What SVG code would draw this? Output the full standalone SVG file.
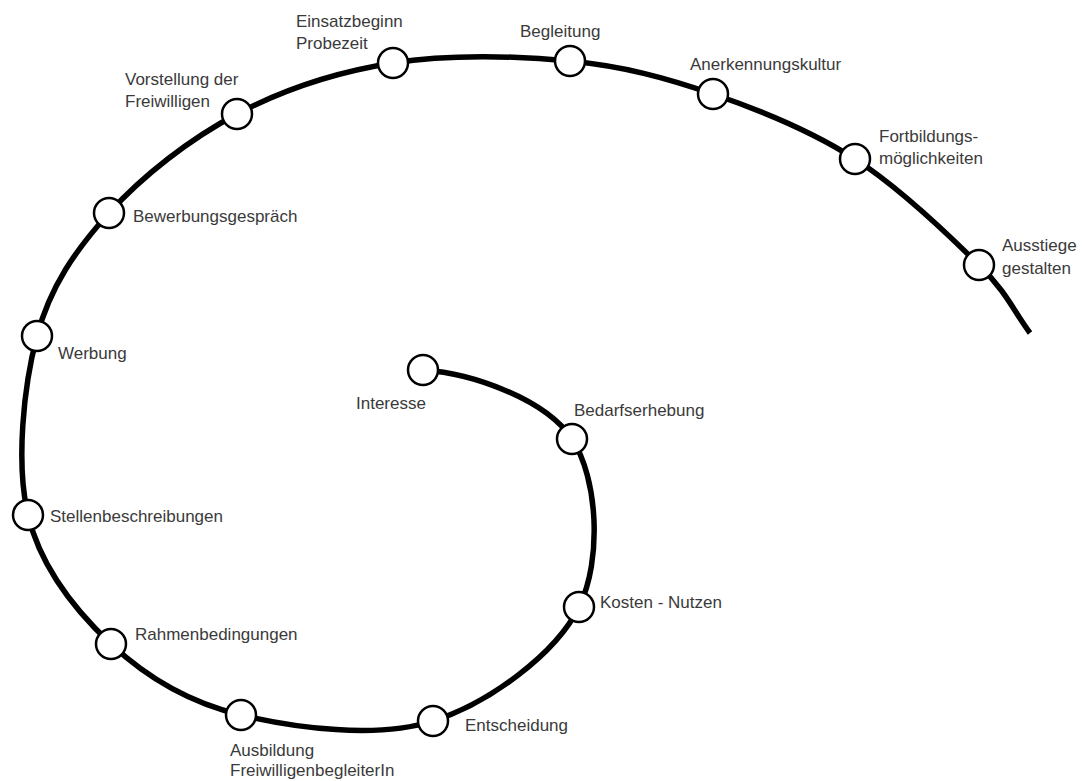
<svg xmlns="http://www.w3.org/2000/svg" width="1085" height="781" viewBox="0 0 1085 781">
<style>
.lbl{font-family:"Liberation Sans",Arial,sans-serif;font-size:17px;fill:#3a3a3a}
.node circle{fill:#fff;stroke:#000;stroke-width:2.5}
.spiral{fill:none;stroke:#000;stroke-width:5.5;stroke-linecap:butt}
</style>
<rect width="1085" height="781" fill="#fff"/>
<g id="connectors">
<path class="spiral" d="M423,370 C473,373.3 546,399.5 572,439 C598,478.5 602.2,560 579,607 C555.8,654 489.3,703 433,721 C376.7,739 294.7,727.8 241,715 C187.3,702.2 146.5,677.3 111,644 C75.5,610.7 40.3,566.3 28,515 C15.7,463.7 23.5,386.3 37,336 C50.5,285.7 75.7,250 109,213 C142.3,176 189.7,139 237,114 C284.3,89 337.5,71.8 393,63 C448.5,54.2 516.7,55.8 570,61 C623.3,66.2 665.5,77.7 713,94 C760.5,110.3 810.7,130.5 855,159 C899.3,187.5 949.8,236 979,265 C1008.2,294 1013,310.3 1030,333"/>
</g>
<g id="n-interesse" class="node"><circle cx="423" cy="370" r="15"/><text class="lbl" x="356" y="409">Interesse</text></g>
<g id="n-bedarf" class="node"><circle cx="572" cy="439" r="15"/><text class="lbl" x="574" y="416">Bedarfserhebung</text></g>
<g id="n-kosten" class="node"><circle cx="579" cy="607" r="15"/><text class="lbl" x="600" y="608">Kosten - Nutzen</text></g>
<g id="n-entscheidung" class="node"><circle cx="433" cy="721" r="15"/><text class="lbl" x="465" y="731">Entscheidung</text></g>
<g id="n-ausbildung" class="node"><circle cx="241" cy="715" r="15"/><text class="lbl" x="230" y="756">Ausbildung</text><text class="lbl" x="230" y="776">FreiwilligenbegleiterIn</text></g>
<g id="n-rahmen" class="node"><circle cx="111" cy="644" r="15"/><text class="lbl" x="135" y="640">Rahmenbedingungen</text></g>
<g id="n-stellen" class="node"><circle cx="28" cy="515" r="15"/><text class="lbl" x="50" y="522">Stellenbeschreibungen</text></g>
<g id="n-werbung" class="node"><circle cx="37" cy="336" r="15"/><text class="lbl" x="58" y="359">Werbung</text></g>
<g id="n-bewerbung" class="node"><circle cx="109" cy="213" r="15"/><text class="lbl" x="133" y="222">Bewerbungsgespräch</text></g>
<g id="n-vorstellung" class="node"><circle cx="237" cy="114" r="15"/><text class="lbl" x="125" y="85">Vorstellung der</text><text class="lbl" x="125" y="107">Freiwilligen</text></g>
<g id="n-einsatz" class="node"><circle cx="393" cy="63" r="15"/><text class="lbl" x="296" y="27">Einsatzbeginn</text><text class="lbl" x="296" y="49">Probezeit</text></g>
<g id="n-begleitung" class="node"><circle cx="570" cy="61" r="15"/><text class="lbl" x="520" y="37">Begleitung</text></g>
<g id="n-anerkennung" class="node"><circle cx="713" cy="94" r="15"/><text class="lbl" x="690" y="70">Anerkennungskultur</text></g>
<g id="n-fortbildung" class="node"><circle cx="855" cy="159" r="15"/><text class="lbl" x="879" y="142">Fortbildungs-</text><text class="lbl" x="879" y="164">möglichkeiten</text></g>
<g id="n-ausstiege" class="node"><circle cx="979" cy="265" r="15"/><text class="lbl" x="1002" y="251">Ausstiege</text><text class="lbl" x="1002" y="274">gestalten</text></g>
</svg>
